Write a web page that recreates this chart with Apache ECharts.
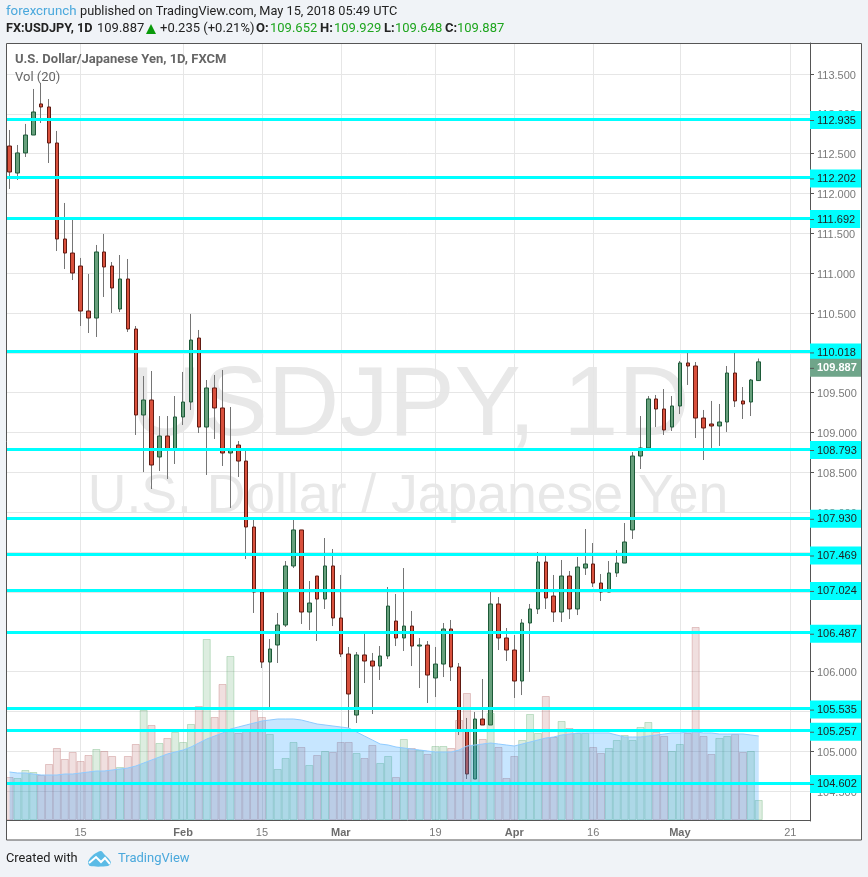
<!DOCTYPE html>
<html><head><meta charset="utf-8">
<style>html,body{margin:0;padding:0;background:#f0f3f7}#c{width:868px;height:877px}</style>
<script src="https://cdn.jsdelivr.net/npm/echarts@6/dist/echarts.min.js"></script>
</head><body><div id="c"></div>
<script>
const dates = ["Jan 2","Jan 3","Jan 4","Jan 5","Jan 8","Jan 9","Jan 10","Jan 11","Jan 12","Jan 15","Jan 16","Jan 17","Jan 18","Jan 19","Jan 22","Jan 23","Jan 24","Jan 25","Jan 26","Jan 29","Jan 30","Jan 31",
"Feb 1","Feb 2","Feb 5","Feb 6","Feb 7","Feb 8","Feb 9","Feb 12","Feb 13","Feb 14","Feb 15","Feb 16","Feb 19","Feb 20","Feb 21","Feb 22","Feb 23","Feb 26","Feb 27","Feb 28",
"Mar 1","Mar 2","Mar 5","Mar 6","Mar 7","Mar 8","Mar 9","Mar 12","Mar 13","Mar 14","Mar 15","Mar 16","Mar 19","Mar 20","Mar 21","Mar 22","Mar 23","Mar 26","Mar 27","Mar 28","Mar 29","Mar 30",
"Apr 2","Apr 3","Apr 4","Apr 5","Apr 6","Apr 9","Apr 10","Apr 11","Apr 12","Apr 13","Apr 16","Apr 17","Apr 18","Apr 19","Apr 20","Apr 23","Apr 24","Apr 25","Apr 26","Apr 27","Apr 30",
"May 1","May 2","May 3","May 4","May 7","May 8","May 9","May 10","May 11","May 14","May 15","May 16","May 17","May 18","May 21","May 22","May 23"];
const xTickLabels = {"Jan 15":"15","Feb 1":"Feb","Feb 15":"15","Mar 1":"Mar","Mar 19":"19","Apr 2":"Apr","Apr 16":"16","May 1":"May","May 21":"21"};
const yTicks = [104.5,105,105.5,106,106.5,107,107.5,108,108.5,109,109.5,110,110.5,111,111.5,112,112.5,113,113.5];
const levels = [112.935,112.202,111.692,110.018,108.793,107.93,107.469,107.024,106.487,105.535,105.257,104.602];
const lastPrice = 109.887;

const opens = [112.596,112.257,112.509,112.734,113.124,113.086,112.634,111.429,111.253,111.090,110.525,110.437,111.266,111.090,110.550,110.927,110.299,109.220,109.408,108.693,108.956,108.781,109.195,109.383,110.186,109.069,109.559,109.308,108.743,108.843,108.642,107.814,106.998,106.119,106.333,106.584,107.325,107.777,106.747,107.199,106.910,107.325,106.672,106.220,105.454,106.208,106.132,106.069,106.195,106.634,106.421,106.571,106.320,106.333,105.919,106.094,106.534,106.057,105.254,104.651,105.404,105.329,106.848,106.421,106.270,105.881,106.609,106.785,107.375,106.948,106.747,107.199,106.785,107.299,107.350,107.111,106.998,107.237,107.362,107.777,108.705,108.806,109.421,109.295,109.069,109.333,109.873,109.835,109.182,109.107,109.082,109.132,109.747,109.396,109.383,109.652];
const closes = [112.270,112.509,112.734,113.023,113.086,112.634,111.429,111.253,111.002,110.525,110.437,111.266,111.078,110.814,110.927,110.299,109.220,109.408,108.592,108.956,108.793,109.195,109.383,110.161,109.069,109.559,109.308,108.743,108.793,108.642,107.814,106.998,106.119,106.283,106.584,107.325,107.777,106.747,106.860,106.910,107.325,106.672,106.220,105.718,106.208,106.132,106.069,106.195,106.822,106.421,106.571,106.320,106.333,105.956,106.094,106.534,106.057,105.254,104.714,105.404,105.329,106.848,106.421,106.270,105.881,106.609,106.785,107.375,106.923,106.747,107.199,106.785,107.312,107.350,107.111,106.998,107.237,107.362,107.626,108.705,108.806,109.421,109.295,109.032,109.333,109.873,109.835,109.182,109.057,109.082,109.132,109.747,109.396,109.358,109.659,109.887];
const lows = [112.057,112.170,112.458,112.734,112.885,112.383,111.278,111.052,110.914,110.337,110.249,110.199,110.701,110.500,110.513,110.262,108.969,108.504,108.291,108.517,108.417,108.605,109.094,109.283,108.994,108.467,108.919,108.580,108.053,108.442,107.412,106.735,106.044,105.555,106.107,106.559,107.299,106.597,106.521,106.383,106.785,106.571,106.182,105.291,105.354,105.856,105.467,105.894,106.157,106.320,106.258,106.069,105.793,105.605,105.680,105.931,105.881,105.203,104.651,104.651,105.329,105.329,106.270,106.132,105.668,105.705,105.994,106.722,106.785,106.622,106.622,106.659,106.709,107.212,107.061,106.885,106.998,107.187,107.362,107.664,108.542,108.806,109.069,108.969,109.019,109.232,109.597,108.931,108.655,108.806,108.831,109.007,109.320,109.170,109.207,109.648];
const highs = [112.797,112.609,112.873,113.312,113.387,113.186,112.785,111.881,111.668,111.191,110.990,111.354,111.492,111.140,111.228,111.178,110.337,109.709,109.772,109.207,109.207,109.458,109.760,110.488,110.287,109.659,109.722,109.785,109.320,108.893,108.768,107.914,107.011,106.408,106.735,107.387,107.914,107.777,107.136,107.199,107.676,107.538,107.212,106.308,106.245,106.471,106.233,106.320,107.061,106.973,107.299,106.760,106.421,106.383,106.308,106.609,106.647,106.107,105.417,105.492,105.906,107.011,106.935,106.546,106.458,106.659,106.848,107.500,107.450,107.212,107.400,107.262,107.438,107.789,107.613,107.224,107.387,107.525,107.864,108.755,109.207,109.458,109.471,109.546,109.458,109.898,109.998,109.885,109.283,109.396,109.358,109.835,109.998,109.571,109.672,109.929];
const volumes = [43,42,50,48,45,56,72,61,68,59,65,71,69,64,53,64,76,110,95,77,82,88,78,96,114,181,103,136,164,87,90,110,103,86,51,62,78,73,55,65,69,68,78,78,67,62,75,57,64,43,81,72,70,66,74,74,72,100,127,75,81,107,73,42,64,80,106,87,124,83,99,92,87,87,73,67,72,80,85,80,93,98,88,84,69,76,87,193,84,66,82,84,86,68,69,20];
const volumeMA = [48,47,47,46,45,45,45,46,46,47,48,49,49,50,51,52,54,57,60,63,66,68,70,73,77,81,84,87,91,93,95,97,99,100,101,101,101,100,98,96,95,94,93,92,88,84,80,76,75,73,72,71,70,69,68,68,68,70,74,75,76,77,76,75,74,76,78,80,82,83,85,86,87,87,87,87,87,85,83,83,83,84,85,86,87,87,88,88,87,87,86,86,86,86,85,84];

const RED='#d9503c', RED_B='#611a12', GREEN='#67a07c', GREEN_B='#1c5a38';
const TEXT='Roboto, sans-serif', MONO='Liberation Sans, Arial, sans-serif';
const isTick = (i) => xTickLabels[dates[i]] !== undefined;

const markData = levels.map(v => ({yAxis:v}));
markData.push({yAxis:lastPrice, lineStyle:{width:0,color:'transparent'},
  label:{backgroundColor:'#6fa58a',offset:[0,6],
    rich:{d:{width:4,height:1,backgroundColor:'#555555'},
      v:{color:'#ffffff',fontWeight:'bold',fontSize:11,lineHeight:11,fontFamily:MONO,padding:[0,0,0,3]}}}});

const headerText = (x,y,t,c,w,s) => ({type:'text',z:30,x:x,y:y,style:{text:t,fill:c,font:(w||'normal')+' '+(s||13)+'px '+TEXT,textVerticalAlign:'middle'}});
const G='#1ea51e', D='#222222';

const option = {
  animation:false,
  backgroundColor:'#f0f3f7',
  textStyle:{fontFamily:MONO},
  grid:{left:5.66,right:58,top:43,bottom:56,containLabel:false},
  xAxis:{type:'category',data:dates,boundaryGap:true,
    axisLine:{lineStyle:{color:'#555555',width:1}},
    axisTick:{alignWithLabel:true,length:3,interval:isTick,lineStyle:{color:'#555555'}},
    splitLine:{show:true,alignWithLabel:true,interval:isTick,lineStyle:{color:'#e6e6e6',width:1}},
    axisLabel:{interval:isTick,margin:6,color:'#7a7a7a',fontSize:11,fontFamily:MONO,
      formatter:(v)=>{const t=xTickLabels[v]||''; return /[A-Z]/.test(t)?'{b|'+t+'}':t;},
      rich:{b:{fontWeight:'bold',color:'#6c6c6c',fontSize:11,fontFamily:MONO}}}
  },
  yAxis:[
    {type:'value',position:'right',min:104.124,max:113.889,scale:true,
      axisLine:{show:true,lineStyle:{color:'#555555'}},
      axisTick:{show:true,length:4,customValues:yTicks,lineStyle:{color:'#555555'}},
      splitLine:{show:true,lineStyle:{color:'#e6e6e6',width:1}},
      axisLabel:{customValues:yTicks,margin:7,formatter:(v)=>'{a|'+v.toFixed(3)+'}',
        rich:{a:{color:'#7a7a7a',fontSize:11,fontFamily:MONO,padding:[3,0,0,0]}}}},
    {type:'value',min:-1,max:777,show:false,splitLine:{show:false}}
  ],
  series:[
    {name:'USDJPY wicks',type:'candlestick',z:2,barWidth:1,silent:true,
      itemStyle:{color:'#757575',color0:'#757575',borderColor:'#757575',borderColor0:'#757575',borderWidth:1},
      data:opens.map((o,i)=>[o,closes[i],lows[i],highs[i]])},
    {name:'USDJPY',type:'candlestick',z:3,barWidth:4,silent:true,
      itemStyle:{color:GREEN,color0:RED,borderColor:GREEN_B,borderColor0:RED_B,borderWidth:1},
      data:opens.map((o,i)=>[o,closes[i],Math.min(o,closes[i]),Math.max(o,closes[i])]),
      markLine:{silent:true,symbol:'none',z:20,animation:false,precision:3,
        lineStyle:{color:'#00ffff',width:3,type:'solid',opacity:1},
        label:{show:true,position:'end',distance:0,backgroundColor:'#00ffff',
          padding:[4,5,3,0],offset:[0,1],
          formatter:(p)=>'{d|}{v|'+p.value.toFixed(3)+'}',
          rich:{d:{width:4,height:1,backgroundColor:'#555555'},
            v:{color:'#222222',fontSize:11,lineHeight:11,fontFamily:MONO,padding:[0,0,0,3]}}},
        data:markData}},
    {name:'Vol',type:'bar',yAxisIndex:1,z:4,barWidth:8,silent:true,
      data:volumes.map((v,i)=>({value:v,itemStyle:closes[i]>=opens[i]
        ?{color:'rgba(83,165,100,0.2)',borderColor:'rgba(83,165,100,0.3)',borderWidth:1}
        :{color:'rgba(172,80,80,0.18)',borderColor:'rgba(172,80,80,0.28)',borderWidth:1}}))},
    {name:'Vol MA 20',type:'line',yAxisIndex:1,z:5,showSymbol:false,silent:true,smooth:false,
      lineStyle:{color:'#8fcbff',width:1},
      areaStyle:{color:'rgba(26,152,255,0.35)'},
      data:volumeMA}
  ],
  graphic:[
    {type:'rect',z:-20,shape:{x:6,y:43,width:855,height:797},style:{fill:'#ffffff'}},
    {type:'text',z:-10,x:410,y:408,style:{text:'USDJPY, 1D',fill:'#e8e8e8',font:'99px '+MONO,textAlign:'center',textVerticalAlign:'middle'}},
    {type:'text',z:-10,x:408,y:497,style:{text:'U.S. Dollar / Japanese Yen',fill:'#e8e8e8',font:'53.5px '+MONO,textAlign:'center',textVerticalAlign:'middle'}},
    {type:'rect',z:40,shape:{x:0,y:43,width:6,height:797},style:{fill:'#f0f3f7'}},
    {type:'rect',z:41,shape:{x:6.5,y:43.5,width:855,height:796.5},style:{fill:'none',stroke:'#555555',lineWidth:1}},
    headerText(6,12,'forexcrunch','#4aa8dc','normal',13.3),
    headerText(80,12,'published on TradingView.com, May 15, 2018 05:49 UTC',D,'normal',12.75),
    headerText(6,29,'FX:USDJPY, 1D',D,'bold',12.7),
    headerText(97,29,'109.887',D),
    {type:'polygon',z:30,shape:{points:[[146,34],[151,24],[156,34]]},style:{fill:'#0a9a0a'}},
    headerText(160,29,'+0.235 (+0.21%)',D,'normal',13),
    headerText(256,29,'O:',D,'bold'),headerText(270,29,'109.652',G),
    headerText(320,29,'H:',D,'bold'),headerText(334,29,'109.929',G),
    headerText(384,29,'L:',D,'bold'),headerText(395,29,'109.648',G),
    headerText(445,29,'C:',D,'bold'),headerText(457,29,'109.887',G),
    headerText(15,60,'U.S. Dollar/Japanese Yen, 1D, FXCM','#666666','bold',13),
    headerText(15,78,'Vol (20)','#666666','normal',13),
    headerText(6,859,'Created with',D,'normal',12.8),
    {type:'polygon',z:30,shape:{smooth:0.3,points:[[90,866],[88,862],[91,857],[96,853],[101,851],[105,855],[109,859],[111,863],[108,866]]},style:{fill:'#5bbbe6'}},
    {type:'polyline',z:31,shape:{points:[[89,863],[96,857],[101,862],[105,858],[110,864]]},style:{stroke:'#ffffff',lineWidth:2,fill:'none'}},
    headerText(118,859,'TradingView','#4aa8dc','normal',13)
  ]
};
echarts.init(document.getElementById('c')).setOption(option);
</script>
</body></html>
